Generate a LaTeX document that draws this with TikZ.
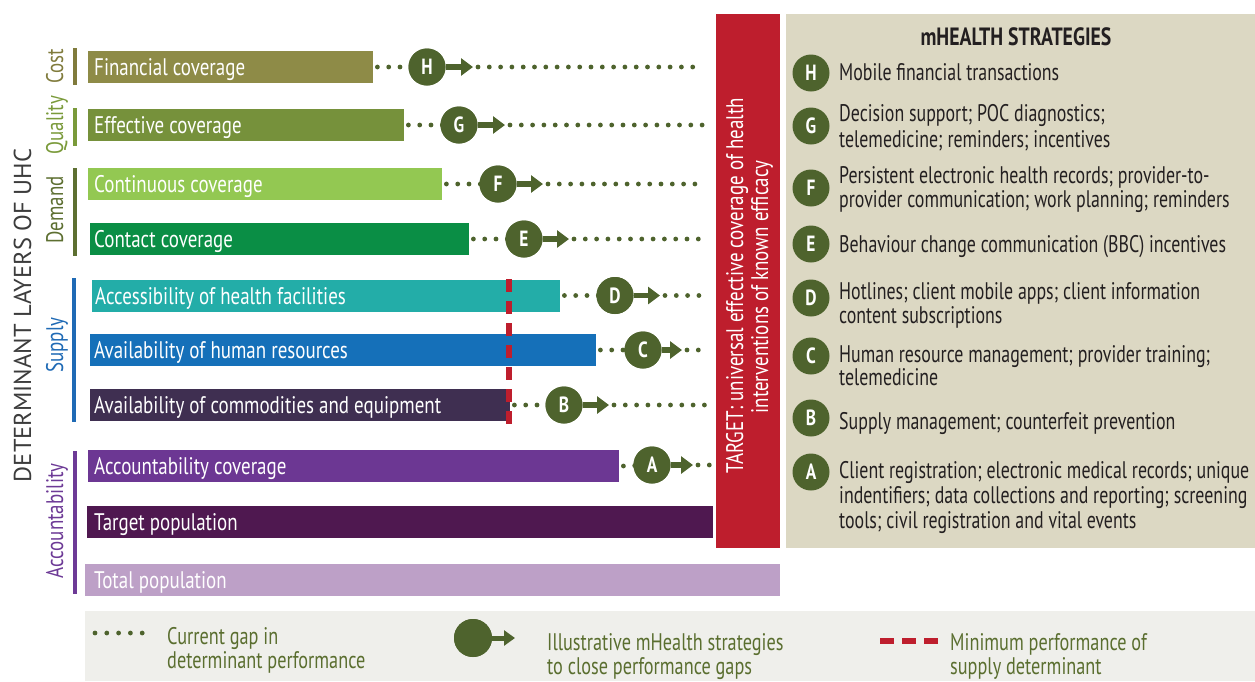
\documentclass[tikz,border=0pt]{standalone}
\usepackage{fontspec}
\setmainfont{PT Sans}
\newfontfamily\cond{PT Sans}[FakeStretch=0.79]
\newfontfamily\condp{PT Sans}[FakeStretch=0.745]
\newfontfamily\condl{PT Sans}[FakeStretch=0.76]
\usetikzlibrary{arrows.meta}
\definecolor{cFin}{HTML}{8E8B47}
\definecolor{cEff}{HTML}{76913B}
\definecolor{cCont}{HTML}{93C852}
\definecolor{cCon}{HTML}{0A8E45}
\definecolor{cAcc}{HTML}{23ADA8}
\definecolor{cHum}{HTML}{1570B9}
\definecolor{cCom}{HTML}{3F2F51}
\definecolor{cAct}{HTML}{6C3793}
\definecolor{cTgt}{HTML}{4F1850}
\definecolor{cTot}{HTML}{BDA0C7}
\definecolor{tred}{HTML}{BE1E2D}
\definecolor{beige}{HTML}{DCD8C3}
\definecolor{dkgreen}{HTML}{4E632D}
\definecolor{legbg}{HTML}{EFEFEB}
\definecolor{legtext}{HTML}{5A6E2F}
\definecolor{titlegray}{HTML}{3C3C3C}
\definecolor{paneltext}{HTML}{231F20}
\definecolor{gCost}{HTML}{807B3C}
\definecolor{gQual}{HTML}{7A9A3A}
\definecolor{gDem}{HTML}{5D6F31}
\definecolor{gSup}{HTML}{1F6AB5}
\definecolor{gAcc}{HTML}{6D3A96}
\begin{document}
\begin{tikzpicture}[x=1pt,y=-1pt,
  bar/.style={rectangle, draw=none, minimum height=32pt, inner sep=0pt, anchor=west},
  bartxt/.style={anchor=base west, text=white, inner sep=0pt, font=\cond\fontsize{24}{24}\selectfont},
  gap/.style={draw=dkgreen, line width=4.8pt, line cap=round, dash pattern=on 0pt off 11.3pt},
  arr/.style={draw=dkgreen, line width=5.5pt, -{Triangle[length=12pt,width=17pt]}},
  ltr/.style={circle, fill=dkgreen, minimum size=37pt, inner sep=0pt, text=white, font=\cond\bfseries\fontsize{22}{22}\selectfont},
  ptxt/.style={anchor=base west, inner sep=0pt, text=paneltext, font=\condp\fontsize{24}{24}\selectfont},
  ltxt/.style={anchor=base west, inner sep=0pt, text=legtext, font=\condl\fontsize{24}{24}\selectfont},
  grp/.style={anchor=base, rotate=90, inner sep=0pt, font=\cond\fontsize{24}{24}\selectfont},
  grpline/.style={rectangle, inner sep=0pt, minimum width=4pt},
  wtxt/.style={anchor=base, rotate=90, inner sep=0pt, text=white, font=\cond\fontsize{24}{24}\selectfont}
]
\useasboundingbox (0,0) rectangle (1255,681);

% background panels
\node[fill=tred, anchor=north west, minimum width=64pt, minimum height=534pt, inner sep=0pt] (band) at (716,14) {};
\node[fill=beige, anchor=north west, minimum width=469pt, minimum height=534pt, inner sep=0pt] (panel) at (786,14) {};
\node[fill=legbg, anchor=north west, minimum width=1170pt, minimum height=70pt, inner sep=0pt] (legend) at (85,611) {};

% titles
\node[anchor=base, rotate=90, inner sep=0pt, text=titlegray, font=\fontsize{24.5}{24.5}\selectfont] (maintitle) at (31,315.5) {DETERMINANT LAYERS OF UHC};
\node[grp, text=gCost] (lCost) at (63,66) {Cost};
\node[grp, text=gQual] (lQual) at (63,125) {Quality};
\node[grp, text=gDem] (lDem) at (63,210) {Demand};
\node[grp, text=gSup] (lSup) at (63,345) {Supply};
\node[grp, text=gAcc] (lAcc) at (63,521) {Accountability};

% group brackets
\node[grpline, fill=gCost, anchor=north, minimum height=37pt] (sCost) at (75,48) {};
\node[grpline, fill=gQual, anchor=north, minimum height=38pt] (sQual) at (75,108) {};
\node[grpline, fill=gDem, anchor=north, minimum height=88pt] (sDem) at (75,168) {};
\node[grpline, fill=gSup, anchor=north, minimum height=144pt] (sSup) at (73.5,278) {};
\node[grpline, fill=gAcc, anchor=north, minimum height=143pt] (sAcc) at (75,451) {};

% bars
\node[bar, fill=cFin, minimum width=285pt] (bH) at (88,67) {};
\node[bar, fill=cEff, minimum width=316pt] (bG) at (88,125) {};
\node[bar, fill=cCont, minimum width=354pt] (bF) at (88,184) {};
\node[bar, fill=cCon, minimum width=379pt] (bE) at (90,239) {};
\node[bar, fill=cAcc, minimum width=468pt] (bD) at (92,295.5) {};
\node[bar, fill=cHum, minimum width=506pt] (bC) at (90,350) {};
\node[bar, fill=cCom, minimum width=420pt] (bB) at (90,405) {};
\node[bar, fill=cAct, minimum width=531pt] (bA) at (88,466) {};
\node[bar, fill=cTgt, minimum width=626pt] (bT) at (87,522) {};
\node[bar, fill=cTot, minimum width=695pt] (bP) at (85,580) {};

\node[bartxt] at ([xshift=6pt,yshift=-8.5pt]bH.west) {Financial coverage};
\node[bartxt] at ([xshift=6pt,yshift=-8.5pt]bG.west) {Effective coverage};
\node[bartxt] at ([xshift=6pt,yshift=-8.5pt]bF.west) {Continuous coverage};
\node[bartxt] at ([xshift=4pt,yshift=-8.5pt]bE.west) {Contact coverage};
\node[bartxt] at ([xshift=3pt,yshift=-8.5pt]bD.west) {Accessibility of health facilities};
\node[bartxt] at ([xshift=4pt,yshift=-8.5pt]bC.west) {Availability of human resources};
\node[bartxt] at ([xshift=4pt,yshift=-8.5pt]bB.west) {Availability of commodities and equipment};
\node[bartxt] at ([xshift=6pt,yshift=-8.5pt]bA.west) {Accountability coverage};
\node[bartxt] at ([xshift=7pt,yshift=-8.5pt]bT.west) {Target population};
\node[bartxt] at ([xshift=9pt,yshift=-8.5pt]bP.west) {Total population};

% minimum supply performance
\coordinate (mTop) at (509,279);
\coordinate (mBot) at (509,424);
\draw[tred, line width=6pt, dash pattern=on 13pt off 9pt] (mTop) -- (mBot);

% band text
\node[wtxt] (tg1) at (743,286) {TARGET: universal effective coverage of health};
\node[wtxt] (tg2) at (768,287) {interventions of known efficacy};

% strategy circles and gaps
\foreach \n/\cx/\cy/\tx/\ex in {H/427/67/473/702, G/459/125/505/712, F/498/184/543/705, E/524/239/569/707, D/615/295.5/660/706, C/643/350/682/702, B/564/405/609/705, A/652/465/693/712}{
  \coordinate (t\n) at (\tx,\cy);
  \coordinate (e\n) at (\ex,\cy);
  \node[ltr] (c\n) at (\cx,\cy) {\n};
}
\foreach \n in {H,G,F,E,D,C,B,A}{
  \draw[gap] ([xshift=4pt]b\n.east) -- (c\n.center);
  \draw[gap] ([xshift=5pt]t\n) -- (e\n);
  \draw[arr] (c\n) -- (t\n);
  \node[ltr] at (c\n) {\n};
}

% right panel
\node[anchor=base, inner sep=0pt, text=paneltext, font=\cond\bfseries\fontsize{25}{25}\selectfont] (ptitle) at (1016,45) {mHEALTH STRATEGIES};
\node[ltr] (pH) at (811,73) {H};
\node[ltr] (pG) at (811,126) {G};
\node[ltr] (pF) at (811,188) {F};
\node[ltr] (pE) at (811,244) {E};
\node[ltr] (pD) at (811,298) {D};
\node[ltr] (pC) at (811,356) {C};
\node[ltr] (pB) at (811,418) {B};
\node[ltr] (pA) at (811,472) {A};
\node[ptxt] at (839,80) {Mobile financial transactions};
\node[ptxt] at (839,121) {Decision support; POC diagnostics;};
\node[ptxt] at (839,147) {telemedicine; reminders; incentives};
\node[ptxt] at (839,183) {Persistent electronic health records; provider-to-};
\node[ptxt] at (839,207) {provider communication; work planning; reminders};
\node[ptxt] at (839,252) {Behaviour change communication (BBC) incentives};
\node[ptxt] at (839,299) {Hotlines; client mobile apps; client information};
\node[ptxt] at (839,323) {content subscriptions};
\node[ptxt] at (839,362) {Human resource management; provider training;};
\node[ptxt] at (839,385) {telemedicine};
\node[ptxt] at (839,429) {Supply management; counterfeit prevention};
\node[ptxt] at (839,478) {Client registration; electronic medical records; unique};
\node[ptxt] at (839,503) {indentifiers; data collections and reporting; screening};
\node[ptxt] at (839,528) {tools; civil registration and vital events};

% legend
\coordinate (ld1) at (95,633);
\coordinate (ld2) at (142.5,633);
\draw[gap, dash pattern=on 0pt off 11.8pt] (ld1) -- (ld2);
\node[ltxt] at (167,644) {Current gap in};
\node[ltxt] at (167,668) {determinant performance};
\coordinate (lt) at (515,638);
\node[ltr, minimum size=38pt] (lc) at (473,638) {};
\draw[arr, line width=5pt, -{Triangle[length=11pt,width=15pt]}] (lc) -- (lt);
\node[ltr, minimum size=38pt] at (lc) {};
\node[ltxt] at (547,650) {Illustrative mHealth strategies};
\node[ltxt] at (547,674) {to close performance gaps};
\coordinate (lr1) at (880,641);
\coordinate (lr2) at (938,641);
\draw[tred, line width=6pt, dash pattern=on 14pt off 8pt] (lr1) -- (lr2);
\node[ltxt] at (950,650) {Minimum performance of};
\node[ltxt] at (950,674) {supply determinant};
\end{tikzpicture}
\end{document}
